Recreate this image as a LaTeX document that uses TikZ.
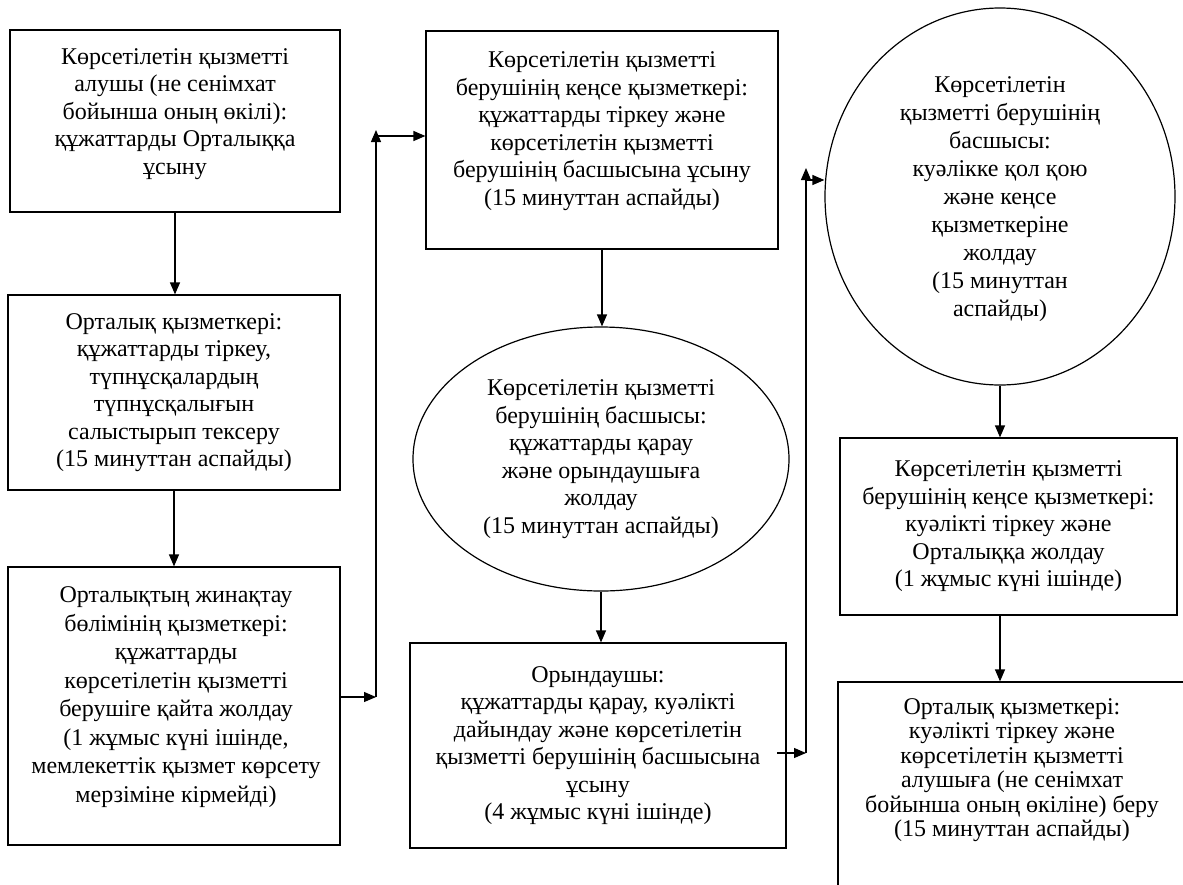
\documentclass[tikz,border=0pt]{standalone}
\usepackage{fontspec}
\setmainfont{Liberation Serif}
\usetikzlibrary{shapes.geometric,arrows.meta}
\begin{document}
\begin{tikzpicture}[x=1pt,y=-1pt,
  every node/.style={font=\fontsize{24}{27.5}\selectfont, align=center, text=black},
  flowbox/.style={draw, line width=1.2pt, rectangle, inner sep=0pt},
  flowell/.style={draw, line width=1.2pt, ellipse, inner sep=0pt},
  conn/.style={line width=1.2pt, -{Triangle[length=12pt,width=10pt]}}]
\useasboundingbox (0,0) rectangle (1183,884);
\fill[white] (0,0) rectangle (1183,884);

\node[flowbox, minimum width=330pt, minimum height=182pt] (b1) at (175,121) {};
\node (b1t) at (175,114)
  {Көрсетілетін қызметті\\алушы (не сенімхат\\бойынша оның өкілі):\\құжаттарды Орталыққа\\ұсыну};
\node[flowbox, minimum width=332pt, minimum height=195pt] (b2) at (174,392.5)
  {Орталық қызметкері:\\құжаттарды тіркеу,\\түпнұсқалардың\\түпнұсқалығын\\салыстырып тексеру\\(15 минуттан аспайды)};
\node[flowbox, minimum width=332pt, minimum height=278pt] (b3) at (174,706) {};
\node[font=\fontsize{24}{28.5}\selectfont] (b3t) at (176,697)
  {Орталықтың жинақтау\\бөлімінің қызметкері:\\құжаттарды\\көрсетілетін қызметті\\берушіге қайта жолдау\\(1 жұмыс күні ішінде,\\мемлекеттік қызмет көрсету\\мерзіміне кірмейді)};
\node[flowbox, minimum width=352pt, minimum height=218pt] (b4) at (602,140) {};
\node (b4t) at (602,131)
  {Көрсетілетін қызметті\\берушінің кеңсе қызметкері:\\құжаттарды тіркеу және\\көрсетілетін қызметті\\берушінің басшысына ұсыну\\(15 минуттан аспайды)};
\node[flowell, minimum width=376pt, minimum height=264pt] (e1) at (601,459)
  {Көрсетілетін қызметті\\берушінің басшысы:\\құжаттарды қарау\\және орындаушыға\\жолдау\\(15 минуттан аспайды)};
\node[flowbox, minimum width=376pt, minimum height=205pt] (b5) at (598,745.5)
  {Орындаушы:\\құжаттарды қарау, куәлікті\\дайындау және көрсетілетін\\қызметті берушінің басшысына\\ұсыну\\(4 жұмыс күні ішінде)};
\node[flowell, minimum width=350pt, minimum height=377pt] (e2) at (1000,196.5) {};
\node[font=\fontsize{24}{28}\selectfont] (e2t) at (1000,199)
  {Көрсетілетін\\қызметті берушінің\\басшысы:\\куәлікке қол қою\\және кеңсе\\қызметкеріне\\жолдау\\(15 минуттан\\аспайды)};
\node[flowbox, minimum width=337pt, minimum height=177pt] (b6) at (1008.5,526.5)
  {Көрсетілетін қызметті\\берушінің кеңсе қызметкері:\\куәлікті тіркеу және\\Орталыққа жолдау\\(1 жұмыс күні ішінде)};
\node[flowbox, minimum width=362pt, minimum height=230pt] (b7) at (1019,797) {};
\node[font=\fontsize{24}{24.5}\selectfont] (b7t) at (1012,770)
  {Орталық қызметкері:\\куәлікті тіркеу және\\көрсетілетін қызметті\\алушыға (не сенімхат\\бойынша оның өкіліне) беру\\(15 минуттан аспайды)};

% connectors
\draw[conn] (b1.south) -- (b1.south |- b2.north);
\draw[conn] (b2.south) -- (b2.south |- b3.north);

\coordinate (j1) at (376,697);
\coordinate (j2) at (376,130);
\coordinate (j3) at (376,136);
\draw[conn] (b3.east |- j1) -- (j1);
\draw[conn] (j1) -- (j2);
\draw[conn] (j3) -- (j3 -| b4.west);

\draw[conn] (b4.south) -- (b4.south |- e1.north);
\draw[conn] (e1.south) -- (e1.south |- b5.north);

\coordinate (k0) at (777,753);
\coordinate (k1) at (806,753);
\coordinate (k2) at (806,168);
\coordinate (k3) at (806,180);
\draw[conn] (k0) -- (k1);
\draw[conn] (k1) -- (k2);
\draw[conn] (k3) -- (k3 -| e2.west);

\draw[conn] (e2.south) -- (e2.south |- b6.north);
\draw[conn] (e2.south |- b6.south) -- (e2.south |- b7.north);
\end{tikzpicture}
\end{document}
